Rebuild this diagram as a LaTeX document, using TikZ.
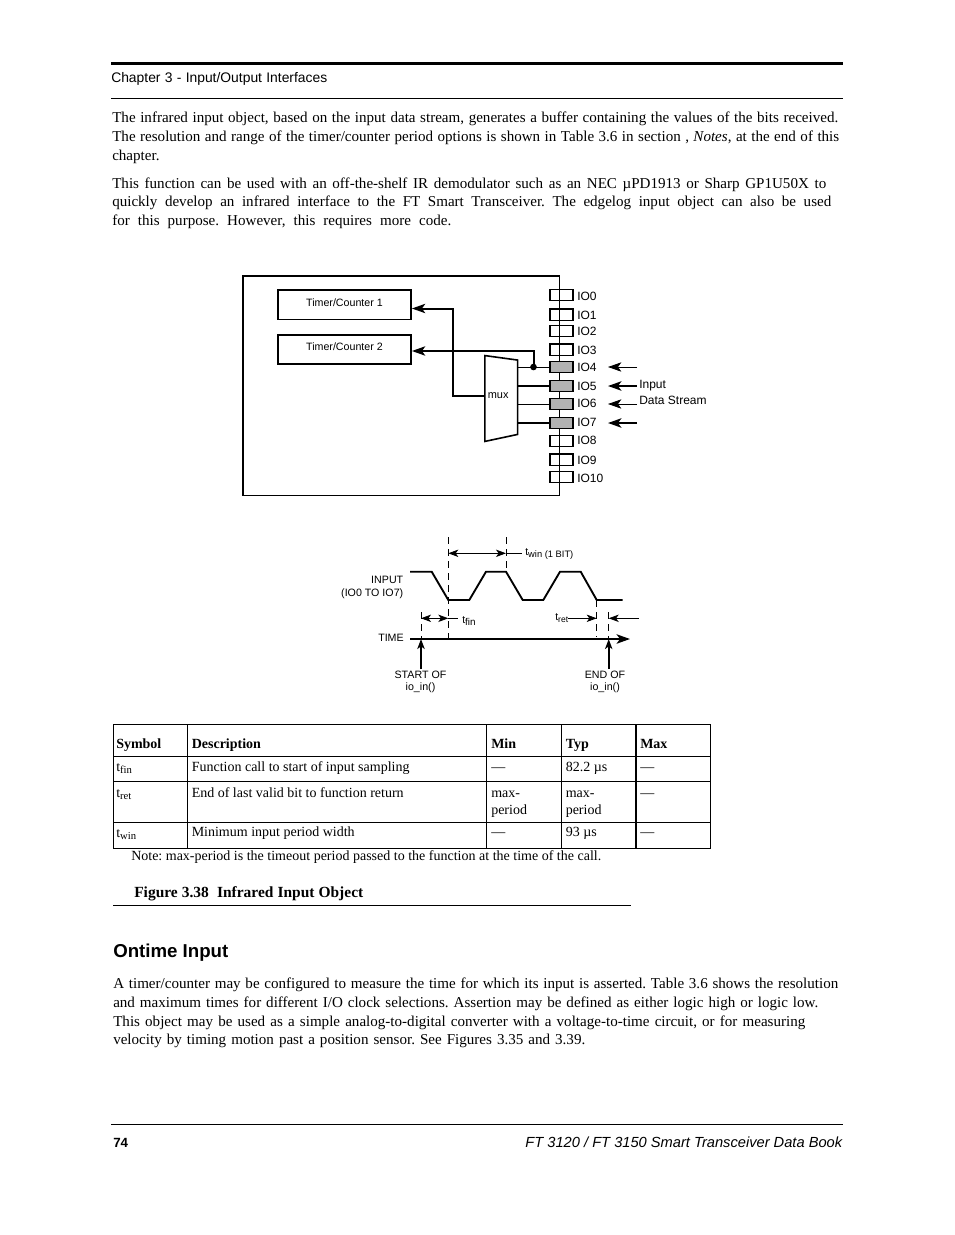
\documentclass[tikz,border=0pt]{standalone}
\usepackage{fontspec}
\setmainfont{Liberation Serif}
\setsansfont{Liberation Sans}
\usetikzlibrary{arrows.meta,positioning,calc}
\newcommand{\fitline}[2]{\makebox[\dimexpr#1pt*3/4\relax][s]{#2}}
\newcommand{\lowsub}[2]{\raisebox{-2pt}{\fontsize{#1pt}{#1pt}\selectfont #2}}
\tikzset{
  txt/.style={anchor=base west, inner sep=0pt},
  bodytext/.style={txt, font=\frenchspacing\fontsize{11.3pt}{13pt}\selectfont},
  tabletext/.style={txt, font=\frenchspacing\fontsize{10.5pt}{13pt}\selectfont},
  tablehead/.style={txt, font=\frenchspacing\fontsize{10.5pt}{13pt}\selectfont\bfseries},
  sanstext/.style={txt, font=\sffamily\fontsize{10.4pt}{13pt}\selectfont},
  iolabel/.style={txt, font=\sffamily\fontsize{9pt}{11pt}\selectfont},
  wavelabel/.style={inner sep=0pt, font=\sffamily\fontsize{8pt}{9.2pt}\selectfont},
  timerbox/.style={draw, line width=1.1pt, minimum width=100pt, minimum height=22pt, inner sep=0pt,
    font=\sffamily\fontsize{8pt}{10pt}\selectfont, text height=5.8pt, text depth=3.9pt},
  pinbox/.style={draw, line width=1.1pt, minimum width=17.5pt, minimum height=8.6pt, inner sep=0pt},
  thinline/.style={line width=0.6pt},
  thickline/.style={line width=1.5pt},
  bigtip/.style={-{Stealth[length=10pt,width=7pt,inset=2.5pt]}},
  smalltip/.style={-{Stealth[length=7.5pt,width=5.5pt,inset=2pt]}},
  bothtips/.style={{Stealth[length=7.5pt,width=5.5pt,inset=2pt]}-{Stealth[length=7.5pt,width=5.5pt,inset=2pt]}},
  dashline/.style={line width=0.7pt, dash pattern=on 5.5pt off 3.5pt},
}
\begin{document}
\begin{tikzpicture}[x=0.75pt, y=-0.75pt]
  \path[use as bounding box, fill=white] (0,0) rectangle (954,1235);
  % page rules
  \draw[line width=2.4pt] (111,63.5) -- (843,63.5);
  \draw[line width=0.75pt] (111,98) -- (843,98);
  \draw[line width=0.75pt] (113,905.5) -- (631,905.5);
  \draw[line width=0.75pt] (111,1124.5) -- (843,1124.5);
  % header and text above the figure
  \node[sanstext] (chapter) at (111,82) {\fitline{216}{Chapter 3 - Input/Output Interfaces}};
  \node[bodytext] (para1a) at (112,122) {\fitline{726}{The infrared input object, based on the input data stream, generates a buffer containing the values of the bits received.}};
  \node[bodytext] (para1b) at (112,141) {\fitline{727}{The resolution and range of the timer/counter period options is shown in Table 3.6 in section , \textit{Notes}, at the end of this}};
  \node[bodytext] (para1c) at (112,160) {chapter.};
  \node[bodytext] (para2a) at (112,188) {\fitline{714}{This function can be used with an off-the-shelf IR demodulator such as an NEC µPD1913 or Sharp GP1U50X to}};
  \node[bodytext] (para2b) at (112,206) {\fitline{719}{quickly develop an infrared interface to the FT Smart Transceiver. The edgelog input object can also be used}};
  \node[bodytext] (para2c) at (112,225) {\fitline{339}{for this purpose. However, this requires more code.}};
  % chip outline and timers
  \draw[line width=1.2pt] (243,276) rectangle (559.5,495.5);
  \node[timerbox] (timer1) at (344.5,304.75) {Timer/Counter 1};
  \node[timerbox] (timer2) at (344.5,349.5) {Timer/Counter 2};
  % pins
  \foreach \i/\yy/\ly in {0/295/300.5,1/314.5/319,2/331/335,3/349.5/354,8/441/444.5,9/459.5/464,10/477/482} {
    \node[pinbox] (pin\i) at (561.5,\yy) {};
    \node[iolabel] (iotext\i) at (577,\ly) {IO\i};
  }
  \foreach \i/\yy/\ly in {4/367/371.5,5/386/390.5,6/404/407.5,7/423/426.5} {
    \node[pinbox, fill=black!30] (pin\i) at (561.5,\yy) {};
    \node[iolabel] (iotext\i) at (577,\ly) {IO\i};
    \coordinate (ext\i) at (637,\yy);
    \coordinate (tip\i) at (608,\yy);
  }
  % mux
  \node[inner sep=0pt, minimum height=64pt, text width=20pt, inner xsep=2.1pt, align=left,
    text height=5.8pt, text depth=5.6pt, font=\sffamily\fontsize{8.2pt}{10pt}\selectfont] (mux) at (501.2,398.5) {mux};
  \draw[line width=1.2pt] (mux.north west) -- ($(mux.north east)+(0,4.5)$) -- ($(mux.south east)+(0,-7)$) -- (mux.south west) -- cycle;
  % connections
  \draw[thinline] (pin4.west) -- (pin4.west -| mux.east);
  \draw[thickline] (pin5.west) -- (pin5.west -| mux.east);
  \draw[thinline] (pin6.west) -- (pin6.west -| mux.east);
  \draw[thickline] (pin7.west) -- (pin7.west -| mux.east);
  \node[circle, fill=black, inner sep=0pt, minimum size=5pt] (joint) at (533.5,367) {};
  \draw[thickline, bigtip] (joint.center) -- (533.5,351) -- (timer2.east |- 0,351);
  \draw[thickline, bigtip] (mux.west |- 0,396) -- (452.7,396) -- (452.7,308.5) -- (timer1.east |- 0,308.5);
  % input data stream
  \draw[thinline, bigtip] (ext4) -- (tip4);
  \draw[thickline, bigtip] (ext5) -- (tip5);
  \draw[thinline, bigtip] (ext6) -- (tip6);
  \draw[thickline, bigtip] (ext7) -- (tip7);
  \node[iolabel] (inputtext) at (639,388) {Input};
  \node[iolabel] (streamtext) at (639,404) {Data Stream};
  % timing diagram
  \draw[line width=1.4pt] (410,571.7) -- (431.7,571.7) -- (448.3,600) -- (469.3,600) -- (486,571.7) -- (506,571.7)
    -- (522.7,600) -- (543.3,600) -- (560,571.7) -- (580.7,571.7) -- (596.7,600) -- (622.7,600);
  \coordinate (timea) at (410,639);
  \coordinate (timeb) at (630,639);
  \coordinate (startmark) at (421,639);
  \coordinate (endmark) at (608.7,639);
  \draw[thickline, bigtip] (timea) -- (timeb);
  \draw[dashline] (448.3,537) -- (448.3,638);
  \draw[dashline] (506,537) -- (506,571);
  \draw[dashline] (421,612) -- (startmark);
  \draw[dashline] (596.7,600) -- (596.7,637);
  \draw[dashline] (608.7,612) -- (endmark);
  \node[wavelabel, align=right, anchor=east] (inputlabel) at (403.5,587.5) {INPUT\\(IO0 TO IO7)};
  \node[wavelabel, anchor=east] (timelabel) at (404,637.5) {TIME};
  \node[wavelabel, align=center, anchor=north, inner ysep=1.5pt] (startlabel) at (420.5,669) {START OF\\io\_in()};
  \node[wavelabel, align=center, anchor=north, inner ysep=1.5pt] (endlabel) at (605,669) {END OF\\io\_in()};
  \draw[thickline, smalltip] (startlabel.north -| startmark) -- (startmark);
  \draw[thickline, smalltip] (endlabel.north -| endmark) -- (endmark);
  \node[wavelabel, anchor=base west] (twin) at (525,555) {t\lowsub{7}{win (1 BIT)}};
  \node[wavelabel, anchor=base west] (tfin) at (462,623) {t\lowsub{7.4}{fin}};
  \node[wavelabel, anchor=base west] (tret) at (555,620) {t\lowsub{6.4}{ret}};
  \coordinate (twinend) at (521.7,553.3);
  \coordinate (tfinend) at (458.3,618.3);
  \draw[thinline, bothtips] (448.3,553.3) -- (506,553.3);
  \draw[thinline] (506,553.3) -- (twinend);
  \draw[thinline, bothtips] (421,618.3) -- (448.3,618.3);
  \draw[thinline] (448.3,618.3) -- (tfinend);
  \draw[thinline, smalltip] (tret.east |- 0,618.3) -- (596.7,618.3);
  \coordinate (retfree) at (639,618.3);
  \draw[thinline, smalltip] (retfree) -- (608.7,618.3);
  % table grid
  \foreach \yy in {724,756,781,822,848}
    \draw[line width=0.75pt] (113,\yy) -- (710.5,\yy);
  \foreach \xx in {113,486.5,561.5,710.5}
    \draw[line width=0.75pt] (\xx,724) -- (\xx,848);
  \foreach \xx in {187.5,636}
    \draw[line width=1.2pt] (\xx,724) -- (\xx,848);
  % table text
  \foreach \nm/\xx/\tx in {Symbol/116/Symbol,Description/191.5/Description,Min/491/Min,Typ/565.5/Typ,Max/640/Max}
    \node[tablehead] (head\nm) at (\xx,748) {\tx};
  \node[tabletext] (symfin) at (116,771) {t\lowsub{8}{fin}};
  \node[tabletext] (descfin) at (191.5,771) {Function call to start of input sampling};
  \node[tabletext] (minfin) at (491,771) {—};
  \node[tabletext] (typfin) at (565.5,771) {82.2 µs};
  \node[tabletext] (maxfin) at (640,771) {—};
  \node[tabletext] (symret) at (116,797) {t\lowsub{8}{ret}};
  \node[tabletext] (descret) at (191.5,797) {End of last valid bit to function return};
  \node[tabletext] (minret) at (491,797) {max-};
  \node[tabletext] (minretb) at (491,814) {period};
  \node[tabletext] (typret) at (565.5,797) {max-};
  \node[tabletext] (typretb) at (565.5,814) {period};
  \node[tabletext] (maxret) at (640,797) {—};
  \node[tabletext] (symwin) at (116,837) {t\lowsub{8}{win}};
  \node[tabletext] (descwin) at (191.5,836.5) {Minimum input period width};
  \node[tabletext] (minwin) at (491,836.5) {—};
  \node[tabletext] (typwin) at (565.5,836.5) {93 µs};
  \node[tabletext] (maxwin) at (640,836.5) {—};
  \node[tabletext] (tablenote) at (131,860) {\fitline{470}{Note: max-period is the timeout period passed to the function at the time of the call.}};
  \node[tablehead, font=\frenchspacing\fontsize{11.6pt}{13pt}\selectfont\bfseries] (caption) at (134,897) {\fitline{229}{Figure 3.38\ \ Infrared Input Object}};
  % text below the figure
  \node[txt, font=\sffamily\bfseries\fontsize{14pt}{16pt}\selectfont] (heading) at (113,957) {Ontime Input};
  \node[bodytext] (para3a) at (113,988) {\fitline{725}{A timer/counter may be configured to measure the time for which its input is asserted. Table 3.6 shows the resolution}};
  \node[bodytext] (para3b) at (113,1007) {\fitline{705}{and maximum times for different I/O clock selections. Assertion may be defined as either logic high or logic low.}};
  \node[bodytext] (para3c) at (113,1026) {\fitline{692}{This object may be used as a simple analog-to-digital converter with a voltage-to-time circuit, or for measuring}};
  \node[bodytext] (para3d) at (113,1044) {\fitline{472}{velocity by timing motion past a position sensor. See Figures 3.35 and 3.39.}};
  % footer
  \node[txt, font=\sffamily\bfseries\fontsize{10pt}{12pt}\selectfont] (pagenum) at (113,1147) {74};
  \node[txt, anchor=base east, font=\sffamily\itshape\fontsize{11pt}{12pt}\selectfont] (booktitle) at (842.5,1147) {FT 3120 / FT 3150 Smart Transceiver Data Book};
\end{tikzpicture}
\end{document}
